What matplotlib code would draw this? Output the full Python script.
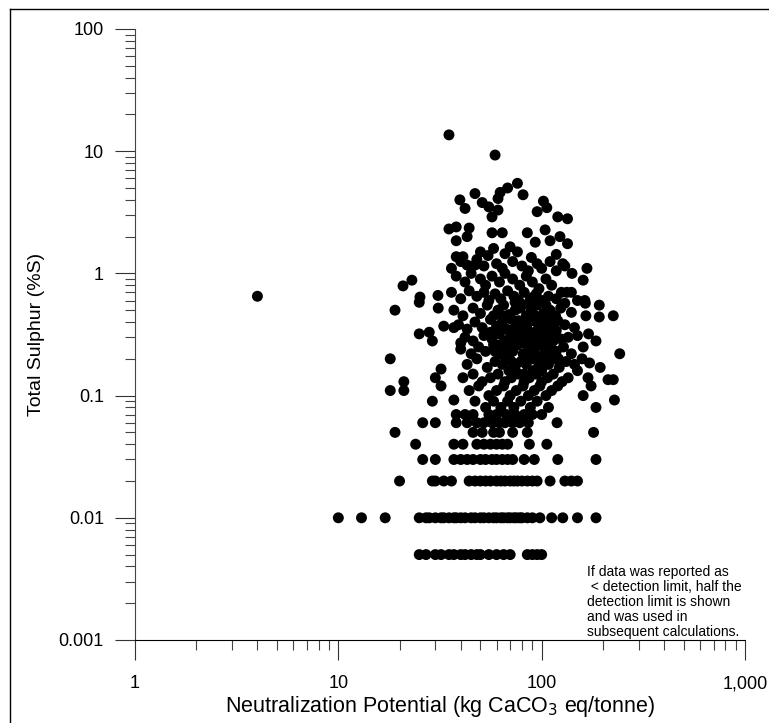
import numpy as np
import matplotlib
matplotlib.use("Agg")
import matplotlib.pyplot as plt
from matplotlib.ticker import FixedLocator, LogLocator, NullFormatter
from matplotlib.lines import Line2D

plt.rcParams['font.family'] = ['Liberation Sans', 'DejaVu Sans']

# -------------------------------
# Muestras reportadas con valores de azufre "redondos" (filas horizontales)
np_s0005 = [25, 27, 30, 32, 35, 37, 40, 42, 45, 48, 50, 55, 60, 65, 70, 85, 90, 95, 100]
np_s001 = [10, 13, 17, 25, 27, 28, 30, 32, 33, 35, 37, 38, 40, 42, 45, 47, 50, 52, 55,
           58, 60, 63, 65, 68, 70, 73, 75, 78, 80, 85, 90, 98, 112, 127, 150, 185]
np_s002 = [20, 29, 30, 33, 36, 44, 47, 50, 53, 56, 60, 63, 66, 70, 73, 76, 80, 85, 90,
           95, 110, 130, 140, 150]
np_s003 = [26, 30, 37, 40, 43, 46, 50, 53, 57, 60, 64, 68, 72, 82, 92, 120, 185]
np_s004 = [24, 37, 41, 48, 52, 56, 60, 64, 68, 87, 106]
np_s005 = [19, 46, 51, 58, 62, 72, 85, 180]
np_s006 = [26, 30, 38, 43, 48, 52, 57, 62, 66, 72, 78, 86, 119]
np_s007 = [38, 42, 46, 55, 60, 67, 74, 82, 90, 100]

# -------------------------------
# Resto de las muestras (NP, %S)
np_otros = [
    4, 35, 59, 76, 68, 62.5, 61, 47, 81, 39.6, 42, 51, 55, 61, 57, 102, 106, 95, 120, 134,
    38, 44, 43, 38, 57, 64, 85, 104, 123, 93, 110, 134, 50, 54.5, 58, 70, 76, 66, 38, 41,
    47, 43, 89, 118, 127, 141, 167, 160, 133, 163, 35, 23, 20.8, 25.2, 30.9,
    36, 40, 48, 52, 60, 64, 72, 80, 86, 95, 100, 110, 118, 130,
    38, 42, 45, 50, 53, 57, 62, 66, 72, 78, 84, 90, 97, 105, 112,
    36, 40, 44, 48, 52, 55, 59, 63, 68, 73, 77, 82, 88, 94, 100, 108, 118, 125,
    37, 41, 46, 50, 54, 58, 61, 65, 69, 74, 79, 84, 89, 95, 102, 110, 117, 124, 140,
    39, 43, 47, 51, 56, 60, 64, 67, 71, 75, 80, 85, 91, 97, 104, 112, 120, 130, 145,
    42, 46, 52, 57, 62, 66, 70, 74, 78, 83, 88, 93, 99, 106, 115, 125, 135, 150,
    40, 45, 49, 53, 58, 63, 67, 72, 76, 81, 86, 92, 98, 103, 110, 118, 128, 140,
    43, 48, 54, 59, 64, 69, 74, 79, 84, 90, 96, 101, 108, 116, 122, 132, 145,
    41, 46, 51, 56, 61, 66, 71, 77, 82, 87, 94, 100, 107, 114, 126, 135,
    44, 49, 55, 60, 65, 70, 75, 81, 86, 92, 98, 105, 112, 120,
    47, 53, 58, 63, 68, 73, 79, 88, 95, 108,
    19, 25, 31, 33, 25, 28, 29, 18, 32, 30, 32, 21, 18, 21, 29,
    130, 164, 192, 192, 225, 37, 40, 242, 158, 172, 194, 169, 212, 225, 228, 185,
    37, 185, 170, 160, 175, 160, 150, 165, 150, 140,
    56, 62, 68, 71, 75, 77, 79, 81, 83, 85, 87, 89, 91, 93, 95, 97, 99, 101, 103, 106,
    108, 111, 114, 118, 121, 66, 73, 64, 59, 69, 86, 92, 78, 74, 105, 100, 82, 70, 88, 96,
]
s_otros = [
    0.65, 13.6, 9.3, 5.46, 5.0, 4.6, 4.1, 4.5, 4.4, 4.0, 3.4, 3.8, 3.5, 3.3, 2.9, 3.9, 3.45, 3.2, 2.9, 2.8,
    2.4, 2.35, 2.0, 1.85, 2.15, 2.15, 2.15, 2.27, 2.0, 1.8, 1.85, 1.75, 1.5, 1.4, 1.6, 1.65, 1.5, 1.45, 1.37, 1.37,
    1.17, 1.17, 1.35, 1.43, 1.2, 1.0, 1.1, 0.88, 0.7, 0.6, 2.31, 0.88, 0.79, 0.64, 0.66,
    1.1, 1.25, 1.3, 1.15, 1.2, 1.1, 1.25, 1.15, 1.05, 1.2, 1.1, 1.25, 1.05, 1.15,
    0.95, 0.85, 1.0, 0.9, 0.8, 0.95, 0.85, 1.0, 0.9, 0.8, 0.95, 0.85, 0.75, 0.9, 0.8,
    0.7, 0.62, 0.72, 0.65, 0.7, 0.6, 0.68, 0.62, 0.72, 0.65, 0.6, 0.7, 0.63, 0.68, 0.6, 0.65, 0.62, 0.7,
    0.5, 0.45, 0.52, 0.47, 0.55, 0.45, 0.5, 0.55, 0.46, 0.5, 0.53, 0.45, 0.5, 0.55, 0.47, 0.5, 0.45, 0.52, 0.48,
    0.38, 0.35, 0.4, 0.36, 0.42, 0.37, 0.4, 0.35, 0.42, 0.37, 0.4, 0.35, 0.41, 0.37, 0.4, 0.36, 0.41, 0.38, 0.36,
    0.3, 0.28, 0.31, 0.29, 0.32, 0.28, 0.3, 0.32, 0.28, 0.31, 0.29, 0.32, 0.28, 0.3, 0.32, 0.29, 0.3, 0.31,
    0.24, 0.22, 0.25, 0.23, 0.26, 0.22, 0.25, 0.23, 0.26, 0.22, 0.25, 0.23, 0.26, 0.22, 0.25, 0.23, 0.25, 0.22,
    0.18, 0.2, 0.17, 0.19, 0.18, 0.2, 0.17, 0.19, 0.18, 0.2, 0.17, 0.19, 0.18, 0.2, 0.17, 0.19, 0.18,
    0.14, 0.15, 0.13, 0.14, 0.15, 0.13, 0.14, 0.15, 0.13, 0.14, 0.15, 0.13, 0.14, 0.15, 0.13, 0.14,
    0.11, 0.12, 0.1, 0.11, 0.12, 0.1, 0.11, 0.12, 0.1, 0.11, 0.12, 0.1, 0.11, 0.12,
    0.09, 0.08, 0.09, 0.08, 0.09, 0.08, 0.09, 0.08, 0.09, 0.08,
    0.5, 0.58, 0.52, 0.37, 0.32, 0.33, 0.28, 0.2, 0.165, 0.14, 0.12, 0.13, 0.11, 0.11, 0.09,
    0.57, 0.57, 0.55, 0.44, 0.45, 0.36, 0.27, 0.22, 0.2, 0.185, 0.17, 0.14, 0.135, 0.135, 0.092, 0.08,
    0.092, 0.28, 0.32, 0.25, 0.12, 0.1, 0.16, 0.45, 0.6, 0.7,
    0.33, 0.26, 0.44, 0.19, 0.29, 0.41, 0.34, 0.27, 0.21, 0.4, 0.33, 0.24, 0.16, 0.45, 0.34, 0.2, 0.42, 0.31, 0.26, 0.35,
    0.21, 0.43, 0.28, 0.34, 0.2, 0.21, 0.35, 0.45, 0.23, 0.16, 0.57, 0.62, 0.52, 0.58, 0.55, 0.16, 0.15, 0.26, 0.44, 0.27,
]

ticks_y = [0.001, 0.01, 0.1, 1, 10, 100]
etiquetas_y = ["0.001", "0.01", "0.1", "1", "10", "100"]
ticks_x = [1, 10, 100, 1000]
etiquetas_x = ["1", "10", "100", "1,000"]

nota = ("If data was reported as\n < detection limit, half the\n"
        "detection limit is shown\nand was used in\nsubsequent calculations.")


def juntar_filas():
    filas = [(np_s0005, 0.005), (np_s001, 0.01), (np_s002, 0.02), (np_s003, 0.03),
             (np_s004, 0.04), (np_s005, 0.05), (np_s006, 0.06), (np_s007, 0.07)]
    xs, ys = [], []
    for valores, s in filas:
        xs += list(valores)
        ys += [s] * len(valores)
    xs += np_otros
    ys += s_otros
    return np.array(xs, dtype=float), np.array(ys, dtype=float)


def main():
    x, y = juntar_filas()

    fig = plt.figure(figsize=(7.69, 7.23), dpi=100)
    ax = fig.add_axes([135 / 769, 1 - 640 / 723, 610 / 769, 611 / 723])

    ax.scatter(x, y, s=62, color='black', edgecolors='none', zorder=3, clip_on=False)

    ax.set_xscale('log')
    ax.set_yscale('log')
    ax.set_xlim(1, 1000)
    ax.set_ylim(0.001, 100)

    ax.xaxis.set_major_locator(FixedLocator(ticks_x))
    ax.set_xticklabels(etiquetas_x)
    ax.yaxis.set_major_locator(FixedLocator(ticks_y))
    ax.set_yticklabels(etiquetas_y)
    for eje in (ax.xaxis, ax.yaxis):
        eje.set_minor_locator(LogLocator(base=10, subs=np.arange(2, 10), numticks=20))
        eje.set_minor_formatter(NullFormatter())

    ax.tick_params(which='major', direction='out', length=14.4, width=0.8,
                   labelsize=13, color='#333333')
    ax.tick_params(which='minor', direction='out', length=7.2, width=0.8, color='#444444')
    ax.tick_params(axis='x', which='major', pad=11)
    ax.tick_params(axis='y', which='major', pad=8)

    ax.spines['top'].set_visible(False)
    ax.spines['right'].set_visible(False)
    ax.spines['left'].set_color('#444444')
    ax.spines['bottom'].set_color('black')

    ax.set_xlabel("Neutralization Potential (kg CaCO$_3$ eq/tonne)", fontsize=15.5, labelpad=1)
    ax.set_ylabel("Total Sulphur (%S)", fontsize=14, labelpad=10)

    fig.text(587 / 769, 1 - 565 / 723, nota, fontsize=10, va='top', ha='left', linespacing=1.1)

    # marco exterior de la figura (solo se ven el borde izquierdo y el superior)
    fig.add_artist(Line2D([10 / 769, 10 / 769], [0, 1 - 9 / 723], color='black', lw=1))
    fig.add_artist(Line2D([10 / 769, 1], [1 - 9 / 723, 1 - 9 / 723], color='black', lw=1))

    fig.savefig("out.png", dpi=100)


if __name__ == "__main__":
    main()
